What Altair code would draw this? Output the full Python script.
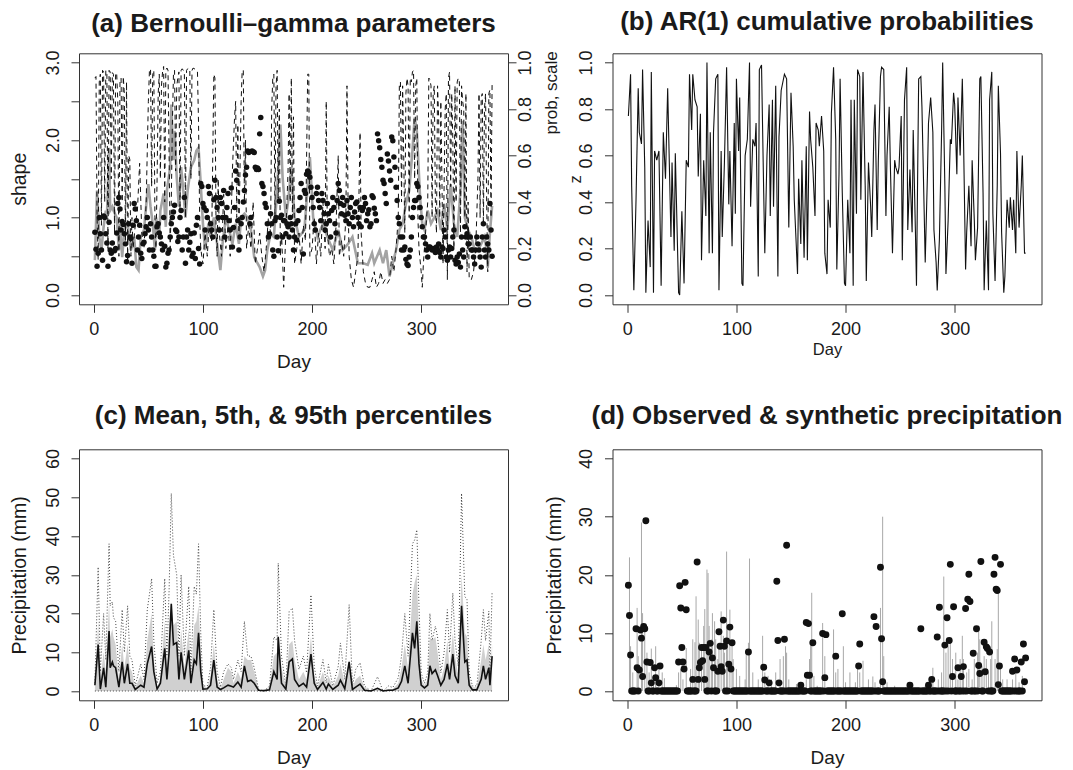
import altair as alt
import pandas as pd

FONT = "Liberation Sans"
TXT = "#1a1a1a"
AX = "#333333"
W, H = 429, 251
XDOM = [-13.56, 379.56]

# ---------------- (a) Bernoulli-gamma parameters ----------------
# shape (black dots), one value per day, read on the left axis
a_shape = [
    0.81, 0.59, 0.37, 0.54, 1.0, 0.79, 0.58, 0.45, 1.02, 1.0,
    0.79, 0.67, 0.37, 0.94, 0.58, 0.54, 0.67, 0.46, 0.57, 0.6,
    0.8, 1.18, 1.26, 1.11, 0.84, 0.95, 0.91, 0.79, 0.66, 0.43,
    0.51, 0.92, 0.75, 0.73, 0.41, 0.9, 1.18, 1.11, 0.96, 0.58,
    0.75, 0.9, 0.54, 0.47, 0.66, 0.68, 0.79, 0.88, 1.0, 0.84,
    0.58, 0.92, 0.75, 0.58, 0.5, 0.37, 0.37, 0.88, 0.92, 0.8,
    0.75, 0.66, 0.58, 1.0, 0.63, 0.36, 0.41, 0.54, 0.58, 0.75,
    0.92, 1.0, 1.07, 1.16, 0.84, 0.82, 0.69, 0.75, 1.0, 1.09,
    0.58, 0.75, 1.26, 0.41, 0.75, 0.84, 0.58, 0.68, 0.79, 0.5,
    0.54, 0.8, 0.47, 0.9, 1.0, 0.6, 0.4, 1.44, 1.4, 1.18,
    1.13, 0.84, 1.09, 1.0, 1.4, 1.31, 0.92, 0.84, 0.75, 1.23,
    1.48, 1.26, 1.13, 1.0, 0.84, 1.26, 1.18, 1.0, 1.35, 0.75,
    1.0, 1.13, 1.31, 0.96, 0.84, 1.38, 0.62, 0.87, 1.13, 1.6,
    1.48, 0.96, 0.58, 0.75, 0.92, 1.0, 1.2, 1.35, 1.55, 1.65,
    1.86, 1.84, 0.92, 1.0, 1.86, 1.85, 1.84, 1.65, 1.62, 1.64,
    1.62, 2.08, 2.29, 1.44, 1.4, 1.31, 1.18, 1.13, 0.92, 0.75,
    0.79, 1.05, 0.92, 0.58, 0.5, 0.96, 1.0, 0.75, 0.57, 1.21,
    1.0, 1.03, 0.75, 0.96, 0.96, 0.79, 0.92, 0.88, 0.75, 1.0,
    0.92, 0.84, 0.58, 0.75, 0.92, 0.71, 0.96, 1.09, 1.26, 1.44,
    1.13, 0.53, 1.35, 1.31, 1.56, 1.6, 1.58, 1.52, 1.39, 1.26,
    1.13, 0.92, 0.84, 1.31, 1.39, 1.22, 1.13, 0.96, 1.31, 1.22,
    1.05, 0.84, 0.92, 1.18, 1.05, 0.96, 0.75, 1.09, 1.26, 1.13,
    0.92, 0.8, 1.22, 1.44, 1.35, 1.18, 1.05, 1.26, 1.16, 1.03,
    0.96, 1.22, 1.05, 0.92, 1.13, 1.26, 1.0, 0.88, 1.07, 1.18,
    1.2, 1.0, 0.92, 1.13, 0.88, 1.09, 1.13, 1.26, 1.18, 0.96,
    1.05, 1.1, 0.88, 0.92, 1.28, 1.26, 1.12, 1.05, 0.96, 2.08,
    1.99, 1.9, 1.75, 1.65, 1.48, 1.44, 1.31, 1.18, 1.82, 1.73,
    1.6, 1.48, 2.04, 1.99, 1.78, 1.65, 1.39, 1.22, 1.0, 0.92,
    0.75, 0.58, 0.75, 0.58, 0.62, 0.46, 0.4, 0.38, 0.49, 0.58,
    0.75, 1.0, 1.13, 1.22, 1.22, 1.44, 1.4, 1.26, 1.13, 1.0,
    0.88, 0.75, 0.75, 0.66, 0.58, 0.49, 0.62, 0.62, 0.6, 0.58,
    0.6, 0.58, 0.55, 0.62, 0.58, 0.66, 0.55, 0.49, 0.62, 0.6,
    0.84, 0.75, 0.49, 0.45, 0.58, 0.62, 0.49, 0.6, 0.75, 0.84,
    0.45, 0.4, 0.49, 0.42, 0.53, 0.36, 0.75, 0.58, 0.49, 0.88,
    0.75, 0.79, 0.66, 0.66, 0.75, 0.58, 0.58, 0.49, 0.4, 0.58,
    0.75, 0.66, 0.58, 0.49, 0.36, 0.75, 0.92, 0.58, 0.49, 0.75,
    0.66, 0.58, 1.18, 0.84, 0.5,
]

# grey solid line (day, value read on the left axis)
a_grey = [
    (1, 0.45), (3, 1.35), (5, 0.75), (7, 0.58), (9, 0.88), (11, 1.09), (12, 1.0), (14, 1.9),
    (15, 1.09), (17, 1.14), (18, 1.09), (21, 1.0), (23, 0.58), (24, 0.92), (26, 0.49), (28, 0.84),
    (31, 0.92), (34, 0.58), (37, 0.75), (39, 0.36), (41, 0.32), (43, 0.75), (46, 0.84), (49, 1.31),
    (50, 1.43), (52, 1.14), (54, 0.92), (56, 0.58), (57, 1.0), (60, 0.75), (61, 1.09), (64, 1.31),
    (66, 0.88), (67, 1.35), (70, 1.65), (71, 2.46), (73, 1.74), (74, 2.12), (76, 1.52), (78, 1.14),
    (80, 1.65), (82, 1.35), (84, 1.0), (86, 1.35), (89, 1.65), (92, 1.74), (94, 1.86), (96, 1.9),
    (98, 1.43), (100, 0.92), (102, 0.58), (105, 0.92), (107, 0.75), (110, 1.0), (113, 0.66), (116, 0.32),
    (118, 0.66), (121, 1.0), (124, 0.84), (127, 0.66), (130, 0.92), (133, 0.66), (135, 1.0), (138, 1.05),
    (141, 1.0), (144, 0.84), (147, 0.49), (150, 0.41), (152, 0.36), (155, 0.24), (157, 0.32), (159, 0.58),
    (162, 0.79), (165, 0.75), (168, 1.35), (171, 2.2), (173, 1.52), (176, 1.0), (178, 1.2), (181, 1.65),
    (184, 1.0), (188, 0.75), (193, 0.84), (198, 1.78), (201, 1.0), (205, 0.75), (210, 0.92), (214, 0.75),
    (219, 0.58), (224, 0.84), (228, 0.58), (233, 0.66), (237, 0.75), (242, 0.41), (247, 0.41), (251, 0.39),
    (255, 0.54), (257, 0.41), (262, 0.58), (265, 0.41), (268, 0.58), (271, 0.24), (274, 0.41), (277, 0.58),
    (280, 0.84), (283, 0.92), (286, 1.18), (289, 1.35), (292, 1.86), (294, 2.29), (296, 2.12), (299, 1.26),
    (301, 0.92), (303, 0.84), (306, 1.09), (309, 0.92), (312, 1.0), (315, 1.09), (318, 0.84), (321, 1.18),
    (324, 0.84), (327, 1.43), (330, 0.92), (333, 0.75), (336, 1.35), (338, 2.25), (340, 1.0), (343, 0.84),
    (346, 0.75), (349, 0.58), (352, 0.58), (355, 0.66), (358, 0.75), (360, 0.58), (361, 0.35), (363, 0.8),
    (365, 1.15),
]

# dashed black line (day, value read on the left axis; shown against the prob axis)
a_dash = [
    (1, 2.8), (2, 2.82), (3, 1.0), (4, 0.45), (5, 2.75), (6, 2.85), (7, 0.9), (8, 2.9), (9, 2.88), (10, 1.2),
    (11, 2.9), (12, 2.85), (13, 0.6), (14, 2.9), (15, 2.88), (16, 1.5), (17, 2.87), (18, 2.85), (19, 0.8),
    (20, 2.87), (21, 2.85), (22, 2.5), (23, 0.5), (24, 2.75), (25, 2.8), (26, 1.2), (27, 2.82), (28, 2.6),
    (29, 0.7), (30, 2.75), (31, 0.4), (32, 1.8), (33, 1.75), (34, 0.5), (35, 1.0), (36, 0.6), (38, 0.9),
    (40, 1.1), (42, 1.7), (44, 0.8), (46, 0.6), (48, 1.2), (50, 2.5), (51, 2.9), (52, 2.92), (53, 1.4),
    (54, 2.85), (55, 2.9), (56, 1.0), (57, 0.6), (58, 1.5), (59, 2.6), (60, 2.85), (61, 1.5), (62, 2.7),
    (63, 2.88), (64, 2.95), (65, 1.2), (66, 2.9), (67, 2.93), (68, 2.9), (69, 1.8), (70, 0.6), (71, 1.2),
    (72, 2.2), (73, 2.85), (74, 2.9), (75, 1.6), (76, 2.7), (77, 2.8), (78, 2.88), (79, 1.1), (80, 2.9),
    (81, 2.92), (82, 2.9), (83, 2.88), (84, 1.0), (85, 2.9), (86, 2.92), (87, 2.93), (88, 2.9), (89, 1.5),
    (90, 2.9), (91, 2.93), (92, 2.92), (93, 2.92), (94, 2.9), (95, 2.88), (96, 2.2), (97, 1.0), (98, 0.6),
    (100, 0.4), (102, 0.8), (104, 0.5), (106, 1.0), (108, 0.7), (110, 2.85), (111, 2.8), (112, 0.9),
    (113, 0.5), (114, 1.5), (115, 0.8), (117, 0.5), (119, 1.3), (121, 0.6), (123, 0.9), (125, 0.5),
    (127, 1.6), (129, 2.3), (130, 2.5), (131, 1.0), (132, 2.2), (133, 0.8), (135, 2.5), (136, 2.9),
    (137, 2.9), (138, 1.2), (139, 2.0), (140, 0.6), (142, 0.9), (144, 0.6), (146, 1.2), (148, 0.4),
    (150, 0.6), (152, 0.8), (154, 0.5), (156, 0.3), (158, 0.6), (160, 1.0), (162, 0.8), (163, 2.4),
    (164, 2.8), (165, 2.85), (166, 1.0), (167, 2.7), (168, 2.9), (169, 1.2), (170, 2.4), (171, 0.5),
    (172, 0.8), (174, 0.1), (176, 0.8), (178, 1.6), (179, 2.6), (180, 1.2), (181, 2.8), (182, 1.0),
    (183, 2.3), (184, 0.4), (186, 0.6), (188, 0.8), (190, 0.4), (192, 0.9), (194, 0.7), (196, 2.85),
    (197, 2.85), (198, 0.5), (200, 0.6), (202, 1.0), (204, 0.4), (206, 0.8), (208, 0.5), (210, 1.2),
    (212, 0.6), (213, 2.5), (214, 0.8), (216, 0.5), (218, 0.6), (220, 0.4), (222, 0.9), (224, 1.8),
    (225, 0.5), (227, 0.7), (229, 0.5), (231, 1.0), (232, 2.7), (233, 1.2), (234, 0.5), (236, 0.2),
    (238, 0.1), (240, 0.3), (242, 0.5), (244, 2.1), (245, 0.8), (247, 0.3), (249, 0.15), (251, 0.1),
    (253, 0.1), (255, 0.2), (257, 0.3), (259, 0.1), (261, 0.15), (263, 0.3), (265, 0.15), (267, 0.2),
    (269, 0.15), (271, 0.2), (273, 0.5), (275, 0.3), (277, 0.6), (279, 1.0), (280, 2.7), (281, 2.75),
    (282, 1.2), (283, 2.7), (284, 1.8), (285, 0.8), (286, 2.6), (287, 2.8), (288, 2.7), (289, 1.0),
    (290, 2.8), (291, 2.75), (292, 2.88), (293, 2.9), (294, 1.5), (295, 2.7), (296, 2.8), (297, 1.0),
    (298, 0.6), (300, 0.3), (301, 0.1), (302, 0.4), (304, 0.8), (306, 1.2), (307, 2.8), (308, 2.78),
    (309, 2.7), (310, 1.0), (311, 2.6), (312, 2.7), (313, 1.2), (314, 0.8), (315, 2.7), (316, 2.3),
    (317, 1.0), (318, 2.5), (319, 1.5), (320, 0.4), (322, 2.4), (323, 2.6), (324, 0.2), (325, 2.8),
    (326, 2.88), (327, 1.4), (328, 2.6), (329, 2.0), (330, 0.6), (331, 2.7), (332, 1.2), (333, 2.75),
    (334, 2.8), (335, 2.75), (336, 0.8), (337, 2.7), (338, 2.5), (339, 2.4), (340, 1.0), (341, 2.6),
    (342, 0.3), (343, 1.2), (344, 0.2), (346, 0.2), (348, 0.3), (350, 0.6), (352, 1.5), (353, 2.6),
    (354, 1.0), (355, 2.55), (356, 2.6), (357, 0.9), (358, 2.4), (359, 2.6), (360, 1.2), (361, 0.3),
    (362, 2.6), (363, 2.65), (364, 1.0), (365, 2.75),
]

# ---------------- (b) AR(1) cumulative probabilities ----------------
b_z = [
    (1, 0.77), (3, 0.95), (4, 0.47), (6, 0.02), (8, 0.41), (10, 0.89), (11, 0.70), (13, 0.65), (14, 0.97),
    (16, 0.55), (17, 0.01), (19, 0.32), (21, 0.12), (22, 0.96), (24, 0.01), (25, 0.62), (27, 0.58), (29, 0.62),
    (31, 0.04), (33, 0.70), (35, 0.50), (37, 0.89), (40, 0.25), (41, 0.57), (43, 0.19), (44, 0.61), (47, 0.01),
    (48, 0.0), (50, 0.36), (52, 0.05), (54, 0.58), (56, 0.55), (57, 0.95), (59, 0.71), (60, 0.95), (62, 0.84),
    (64, 0.81), (65, 0.51), (67, 0.78), (68, 0.15), (70, 0.58), (72, 0.34), (73, 1.0), (75, 0.18), (76, 0.70),
    (78, 0.18), (79, 0.70), (81, 0.93), (83, 0.95), (84, 0.02), (86, 0.62), (87, 0.25), (89, 0.57), (91, 0.98),
    (93, 0.39), (94, 0.62), (96, 0.21), (98, 0.74), (99, 0.35), (100, 0.93), (102, 0.62), (103, 0.85),
    (105, 0.05), (106, 0.04), (108, 0.6), (110, 0.67), (112, 1.0), (113, 0.38), (115, 0.67), (117, 0.64),
    (118, 0.74), (120, 0.08), (121, 0.97), (123, 0.99), (125, 0.44), (126, 0.18), (128, 0.6), (130, 0.82),
    (131, 0.34), (133, 0.84), (134, 0.38), (136, 0.9), (138, 0.08), (139, 0.68), (141, 0.88), (144, 0.95),
    (146, 0.93), (148, 0.29), (150, 0.87), (152, 0.64), (153, 0.41), (156, 0.09), (157, 0.5), (159, 0.22),
    (160, 0.58), (162, 0.16), (164, 0.64), (165, 0.15), (167, 0.79), (168, 0.67), (170, 0.55), (172, 0.34),
    (173, 0.74), (175, 0.71), (176, 0.64), (178, 0.77), (180, 0.62), (181, 0.18), (183, 0.09), (184, 0.41),
    (186, 0.29), (187, 0.78), (189, 0.98), (191, 0.67), (192, 0.11), (194, 0.52), (195, 0.93), (197, 0.44),
    (199, 0.05), (200, 0.04), (202, 0.41), (204, 0.18), (205, 0.84), (207, 0.04), (208, 0.84), (210, 0.35),
    (211, 0.97), (213, 0.94), (214, 0.41), (216, 0.96), (218, 0.47), (219, 0.06), (221, 0.57), (223, 0.38),
    (224, 0.25), (226, 0.71), (227, 0.82), (229, 0.28), (230, 0.57), (232, 0.94), (233, 0.98), (235, 0.97),
    (237, 0.34), (238, 0.6), (240, 0.81), (241, 0.57), (243, 0.18), (245, 0.58), (246, 0.55), (248, 0.52),
    (249, 0.55), (251, 0.77), (252, 0.15), (254, 0.84), (256, 0.98), (257, 0.28), (259, 0.54), (261, 0.27),
    (262, 0.71), (264, 0.28), (265, 0.04), (267, 0.93), (269, 0.94), (270, 0.81), (272, 0.37), (273, 0.14),
    (275, 0.51), (276, 0.74), (278, 0.85), (280, 0.70), (281, 0.28), (283, 0.14), (284, 0.02), (286, 0.24),
    (288, 0.70), (289, 1.0), (291, 0.47), (292, 0.09), (294, 0.32), (296, 0.67), (297, 0.65), (299, 0.87),
    (300, 0.82), (302, 0.52), (303, 0.85), (305, 0.6), (307, 0.93), (308, 0.7), (310, 0.11), (311, 0.27),
    (313, 0.47), (315, 0.21), (316, 0.58), (318, 0.32), (319, 0.15), (321, 0.29), (323, 0.93), (324, 0.94),
    (326, 0.44), (327, 0.02), (329, 0.32), (331, 0.02), (332, 0.84), (334, 0.96), (335, 0.35), (337, 0.06),
    (339, 0.47), (340, 0.9), (342, 0.61), (343, 0.27), (345, 0.01), (346, 0.08), (348, 0.41), (350, 0.29),
    (351, 0.42), (353, 0.28), (354, 0.41), (356, 0.18), (357, 0.62), (359, 0.29), (361, 0.47), (362, 0.6),
    (364, 0.18), (365, 0.18),
]

# ---------------- (c) Mean, 5th & 95th percentiles ----------------
c_days = [
    1, 4, 6, 9, 11, 14, 15, 17, 18, 20,
    23, 26, 28, 31, 33, 35, 38, 43, 46, 49,
    53, 55, 58, 61, 65, 67, 69, 71, 73, 76,
    78, 80, 83, 87, 89, 92, 94, 96, 98, 100,
    104, 107, 110, 113, 116, 119, 123, 126, 128, 132,
    135, 138, 141, 144, 147, 151, 156, 161, 165, 168,
    169, 172, 176, 179, 182, 184, 188, 192, 195, 199,
    202, 205, 210, 213, 215, 219, 224, 226, 230, 234,
    237, 240, 244, 248, 254, 260, 265, 270, 274, 279,
    282, 285, 288, 292, 294, 296, 298, 300, 303, 306,
    308, 310, 313, 315, 318, 321, 324, 326, 329, 331,
    334, 337, 340, 342, 344, 347, 351, 355, 357, 359,
    362, 363, 365,
]
c_p95 = [
    2, 32, 5, 20, 8, 38, 22, 23, 19, 18,
    5, 21, 10, 22, 9, 8, 1.3, 7, 3, 21,
    29, 13, 2, 5, 29, 9, 26, 51, 35, 30,
    9, 30, 9, 27, 5, 27, 25, 38, 15, 1.3,
    1.3, 6, 21, 5, 1, 5, 7, 6, 3, 8,
    5, 18, 9, 9, 6, 0.4, 0, 1.3, 14, 13,
    33, 9, 1.3, 20.5, 21.4, 13, 5.6, 9, 4.7, 24.8,
    6.4, 1.3, 8.1, 2.1, 6.9, 1.3, 6.4, 12.4, 3, 22.3,
    1.3, 5.6, 7.3, 1.3, 0, 3.7, 0, 1.3, 0.9, 3.4,
    9, 20, 9, 38, 39, 41.6, 21.8, 4.7, 2, 4.7,
    20, 13, 16.7, 14, 4.7, 9.9, 21, 9.9, 25.3, 13,
    6.4, 51, 24.4, 23.6, 4.7, 1.3, 1.3, 13, 21, 13,
    20.6, 4.7, 25.7,
]
c_band = [
    1, 18, 3, 10, 5, 23, 14, 16, 14, 12,
    3, 12, 6, 12, 6, 5, 1, 4, 2, 13,
    20, 8, 1, 3, 18, 6, 17, 23, 17, 18,
    6, 16, 6, 16, 3, 17, 18, 22, 10, 1,
    1, 4, 12, 3, 0.5, 3, 6, 5, 2, 5,
    3, 9, 8, 8, 5, 0.3, 0, 1, 9, 10,
    14, 6, 1, 12, 13, 8, 3, 5, 3, 14,
    4, 1, 5, 1.5, 4, 1, 4, 7, 2, 8,
    1, 3, 4, 1, 0, 1, 0, 0.5, 0.5, 2,
    6, 12, 6, 25, 28, 30, 14, 3, 1.5, 3,
    14, 13, 14, 10, 3, 6, 13, 6, 15, 9,
    4, 30, 15, 14, 3, 1, 1, 8, 12, 8,
    12, 3, 12,
]
c_mean = [
    1.5, 12, 0.5, 6, 1, 15.5, 6, 7.5, 6.5, 6,
    1, 7.5, 2, 7, 2, 2, 0.4, 1.5, 1, 7,
    11.5, 5, 0.5, 2, 11, 3, 10, 22.5, 12, 12.5,
    3, 10, 3, 10.5, 2, 8, 7, 15, 5, 0.5,
    0.6, 1.5, 8, 1, 0.4, 0.8, 1.5, 1.2, 1, 2.3,
    1, 6.5, 2.5, 2.8, 2, 0.2, 0.1, 0.3, 5, 3,
    14, 2, 0.5, 7.5, 8.3, 3, 1.2, 2, 1, 9.5,
    2, 0.4, 2.2, 0.5, 1.8, 0.4, 1.5, 2.8, 0.6, 7.5,
    0.4, 1, 1.8, 0.2, 0, 0.7, 0, 0.2, 0.2, 0.8,
    2.5, 6.5, 2, 15, 11, 18, 7, 1.5, 0.8, 1.5,
    6.5, 4.5, 5.5, 4, 1.5, 3, 7, 3, 9.5, 4,
    2, 22, 7.5, 8, 1.5, 0.3, 0.3, 3, 6.5, 3,
    6, 1.5, 9,
]
c_p5 = [(1, 0), (365, 0)]

# ---------------- (d) Observed & synthetic precipitation ----------------
d_synth = [
    (2, 23.0), (3, 7.7), (5, 3.2), (9, 14.3), (10, 6.0), (13, 29.0), (14, 13.4), (16, 11.2), (18, 6.6),
    (20, 3.2), (22, 7.3), (24, 2.0), (26, 7.7), (29, 3.8), (32, 3.2), (34, 2.2), (45, 1.0), (47, 3.2),
    (49, 3.8), (51, 2.0), (54, 7.4), (58, 3.8), (60, 8.9), (62, 8.4), (63, 16.3), (65, 12.3), (66, 8.3),
    (68, 7.2), (70, 11.2), (71, 14.1), (73, 20.9), (74, 20.3), (75, 11.2), (77, 8.9), (78, 13.4),
    (80, 12.0), (81, 8.9), (83, 5.5), (84, 8.3), (86, 13.7), (88, 9.5), (89, 6.6), (91, 24.0), (92, 11.2),
    (94, 14.0), (96, 8.3), (97, 5.5), (100, 3.8), (103, 2.6), (108, 2.0), (109, 6.6), (111, 8.3),
    (112, 22.8), (115, 3.2), (120, 2.0), (124, 9.5), (126, 3.2), (129, 2.6), (132, 2.0), (136, 3.2),
    (140, 5.5), (143, 6.0), (145, 7.7), (146, 6.6), (148, 2.0), (155, 1.2), (160, 0.9), (164, 2.0),
    (167, 5.5), (168, 8.3), (169, 16.9), (171, 2.6), (174, 0.9), (179, 11.7), (181, 6.0), (189, 10.6),
    (191, 3.2), (193, 3.8), (198, 7.7), (200, 1.5), (204, 3.2), (209, 1.5), (211, 4.3), (213, 3.2),
    (216, 5.2), (221, 2.0), (225, 2.5), (227, 1.5), (232, 14.3), (234, 30.0), (235, 6.0), (238, 1.5),
    (245, 0.9), (255, 0.6), (273, 0.9), (278, 2.0), (280, 4.0), (285, 2.0), (288, 3.2), (290, 19.7),
    (292, 6.6), (294, 7.7), (296, 8.9), (298, 5.5), (301, 6.6), (303, 2.0), (305, 5.5), (307, 9.5),
    (308, 5.5), (311, 3.2), (313, 3.8), (316, 2.0), (318, 5.5), (321, 6.6), (322, 11.2), (323, 8.9),
    (325, 4.3), (327, 6.0), (329, 5.5), (331, 3.2), (333, 5.5), (334, 12.0), (337, 5.5), (339, 7.2),
    (340, 17.4), (342, 3.8), (344, 2.0), (348, 2.0), (353, 2.0), (356, 3.2), (359, 1.5), (362, 2.6),
]
# observed: days with precipitation above zero; every other day is 0
d_obs_wet = [
    (1, 18.2), (2, 13.0), (3, 6.2), (8, 10.7), (9, 4.0), (11, 3.6), (12, 10.5), (13, 9.1), (14, 2.5),
    (15, 11.1), (16, 10.7), (17, 29.3), (18, 5.0), (21, 4.9), (22, 1.4), (25, 4.0), (26, 2.3), (29, 1.4),
    (30, 4.3), (47, 5.0), (48, 18.1), (49, 14.3), (50, 7.5), (51, 5.0), (52, 3.8), (53, 18.7), (54, 14.0),
    (60, 2.0), (64, 22.2), (65, 2.0), (66, 4.0), (67, 4.9), (68, 7.5), (69, 5.2), (70, 7.5), (71, 2.0),
    (72, 7.5), (75, 6.7), (76, 8.2), (78, 5.7), (79, 4.0), (83, 3.4), (84, 10.2), (85, 7.7), (86, 4.2),
    (87, 3.4), (88, 12.2), (89, 7.7), (91, 8.6), (93, 4.6), (94, 11.0), (95, 3.8), (96, 8.3), (111, 6.7),
    (125, 4.1), (126, 1.9), (130, 1.4), (137, 18.9), (138, 8.7), (139, 1.4), (144, 8.9), (146, 25.1),
    (159, 1.0), (164, 11.8), (165, 2.7), (166, 11.6), (167, 2.7), (170, 8.3), (179, 9.9), (181, 2.3),
    (182, 9.7), (191, 6.0), (197, 13.3), (212, 4.3), (213, 8.1), (226, 12.8), (228, 11.1), (232, 21.3),
    (233, 9.0), (234, 1.6), (259, 1.0), (269, 10.7), (276, 1.0), (279, 2.0), (284, 9.3), (286, 14.4),
    (291, 7.9), (293, 12.6), (295, 8.7), (296, 21.8), (298, 2.5), (299, 14.5), (303, 4.0), (306, 2.5),
    (308, 4.2), (310, 14.2), (312, 15.8), (313, 20.1), (314, 15.4), (317, 6.5), (320, 10.7), (322, 4.4),
    (323, 3.0), (324, 22.3), (327, 8.4), (328, 3.3), (329, 7.6), (330, 7.3), (332, 6.7), (336, 20.1),
    (337, 23.0), (338, 17.5), (339, 17.3), (340, 1.1), (341, 4.3), (342, 21.8), (353, 3.4), (355, 5.5),
    (357, 3.6), (361, 5.0), (363, 8.1), (364, 1.6), (365, 5.7),
]

# ---------------- data frames ----------------
df_shape = pd.DataFrame({"day": list(range(1, len(a_shape) + 1)), "v": a_shape})
df_grey = pd.DataFrame(a_grey, columns=["day", "v"])
df_dash = pd.DataFrame(a_dash, columns=["day", "v"])
df_b = pd.DataFrame(b_z, columns=["day", "z"])
assert len(c_days) == len(c_p95) == len(c_band) == len(c_mean)
df_c = pd.DataFrame({"day": c_days, "p95": c_p95, "band": c_band, "mean": c_mean})
df_p5 = pd.DataFrame(c_p5, columns=["day", "p5"])
df_syn = pd.DataFrame(d_synth, columns=["day", "v"])
wet = dict(d_obs_wet)
df_obs = pd.DataFrame({"day": list(range(1, 366)), "v": [wet.get(d, 0.0) for d in range(1, 366)]})


# ---------------- axes helpers ----------------
def x_axis(title_y, title_size=19):
    return alt.Axis(
        values=[0, 100, 200, 300], format="d", title="Day",
        tickSize=8, tickColor=AX, tickWidth=1, domain=False, grid=False,
        labelFont=FONT, labelFontSize=18, labelColor=TXT, labelPadding=17,
        labelBaseline="middle", labelAlign="center", labelFlush=False, labelOverlap=False,
        titleFont=FONT, titleFontSize=title_size, titleFontWeight="normal", titleColor=TXT,
        titleX=W / 2, titleY=title_y, titleAlign="center", titleBaseline="middle",
    )


def y_axis(values, title, title_x, fmt, title_size=19.5, orient="left", title_y=H / 2,
           label_pad=18, label_expr=None):
    kw = dict(
        values=values, format=fmt, title=title, orient=orient,
        tickSize=8, tickColor=AX, tickWidth=1, domain=False, grid=False,
        labelFont=FONT, labelFontSize=18, labelColor=TXT, labelPadding=label_pad,
        labelAngle=270, labelAlign="center", labelBaseline="middle",
        labelFlush=False, labelOverlap=False,
        titleFont=FONT, titleFontSize=title_size, titleFontWeight="normal", titleColor=TXT,
        titleAngle=270, titleX=title_x, titleY=title_y, titleAlign="center", titleBaseline="middle",
    )
    if label_expr is not None:
        kw["labelExpr"] = label_expr
    return alt.Axis(**kw)


def ptitle(text, offset):
    return alt.TitleParams(text=text, font=FONT, fontSize=26, fontWeight="bold", color=TXT,
                           anchor="middle", frame="group", baseline="alphabetic", offset=offset)


xs = alt.Scale(domain=XDOM, nice=False, zero=False)

# ---------------- panel (a) ----------------
xa = alt.X("day:Q", scale=xs, axis=x_axis(57))
ya = alt.Y("v:Q", scale=alt.Scale(domain=[-0.12, 3.12], nice=False, zero=False),
           axis=y_axis([0, 0.5, 1, 1.5, 2, 2.5, 3], "shape", -60, ".1f",
                       label_expr="datum.value % 1 == 0 ? format(datum.value, '.1f') : ''"))
grey_a = alt.Chart(df_grey).mark_line(color="#a3a3a3", strokeWidth=2.6).encode(x=xa, y=ya)
dots_a = alt.Chart(df_shape).mark_circle(color="#111111", size=30, opacity=1).encode(x=xa, y=ya)
dash_a = alt.Chart(df_dash).transform_calculate(p="datum.v / 3").mark_line(
    color="#111111", strokeWidth=1, strokeDash=[5, 4]
).encode(
    x=xa,
    y=alt.Y("p:Q", scale=alt.Scale(domain=[-0.04, 1.04], nice=False, zero=False),
            axis=y_axis([0, 0.2, 0.4, 0.6, 0.8, 1.0], "prob, scale", 43, ".1f", title_size=17,
                        orient="right", title_y=39, label_pad=9)),
)
pa = alt.layer(alt.layer(grey_a, dots_a), dash_a).resolve_scale(y="independent").properties(
    width=W, height=H, title=ptitle("(a) Bernoulli–gamma parameters", -8))

# ---------------- panel (b) ----------------
xb = alt.X("day:Q", scale=xs, axis=x_axis(45, title_size=16.5))
yb = alt.Y("z:Q", scale=alt.Scale(domain=[-0.04, 1.04], nice=False, zero=False),
           axis=y_axis([0, 0.2, 0.4, 0.6, 0.8, 1.0], "z", -37.5, ".1f", title_size=16.5))
pb = alt.Chart(df_b).mark_line(color="#111111", strokeWidth=1.1).encode(x=xb, y=yb).properties(
    width=W, height=H, title=ptitle("(b) AR(1) cumulative probabilities", -5.5))

# ---------------- panel (c) ----------------
xc = alt.X("day:Q", scale=xs, axis=x_axis(57))
ysc = alt.Scale(domain=[-2.4, 62.4], nice=False, zero=False)
yc_ax = y_axis([0, 10, 20, 30, 40, 50, 60], "Precipitation (mm)", -60, "d")
band_c = alt.Chart(df_c).mark_area(color="#d0d0d0", opacity=1).encode(
    x=xc, y=alt.Y("band:Q", scale=ysc, axis=yc_ax), y2=alt.datum(0))
p95_c = alt.Chart(df_c).mark_line(color="#444444", strokeWidth=1, strokeDash=[1, 2]).encode(
    x=xc, y=alt.Y("p95:Q", scale=ysc, axis=yc_ax))
p5_c = alt.Chart(df_p5).mark_line(color="#444444", strokeWidth=1, strokeDash=[1, 2]).encode(
    x=xc, y=alt.Y("p5:Q", scale=ysc, axis=yc_ax))
mean_c = alt.Chart(df_c).mark_line(color="#111111", strokeWidth=1.6).encode(
    x=xc, y=alt.Y("mean:Q", scale=ysc, axis=yc_ax))
pc = alt.layer(band_c, p95_c, p5_c, mean_c).properties(
    width=W, height=H, title=ptitle("(c) Mean, 5th, & 95th percentiles", -1))

# ---------------- panel (d) ----------------
xd = alt.X("day:Q", scale=xs, axis=x_axis(57))
ysd = alt.Scale(domain=[-1.6, 41.6], nice=False, zero=False)
yd_ax = y_axis([0, 10, 20, 30, 40], "Precipitation (mm)", -58.5, "d")
syn_d = alt.Chart(df_syn).mark_rule(color="#a8a8a8", strokeWidth=1).encode(
    x=xd, y=alt.Y("v:Q", scale=ysd, axis=yd_ax), y2=alt.datum(0))
obs_d = alt.Chart(df_obs).mark_circle(color="#111111", size=48, opacity=1).encode(
    x=xd, y=alt.Y("v:Q", scale=ysd, axis=yd_ax))
pd_ = alt.layer(syn_d, obs_d).properties(
    width=W, height=H, title=ptitle("(d) Observed & synthetic precipitation", -1))

chart = alt.concat(
    pa, pb, pc, pd_, columns=2, spacing={"row": 145, "column": 104.5}, bounds="flush"
).properties(
    autosize=alt.AutoSizeParams(type="none"),
    padding={"left": 79, "top": 53.3, "right": 994, "bottom": 716.7},
).configure(background="white").configure_view(stroke=AX, strokeWidth=1)

chart.save("out.html", embed_options={"renderer": "svg", "actions": False})
